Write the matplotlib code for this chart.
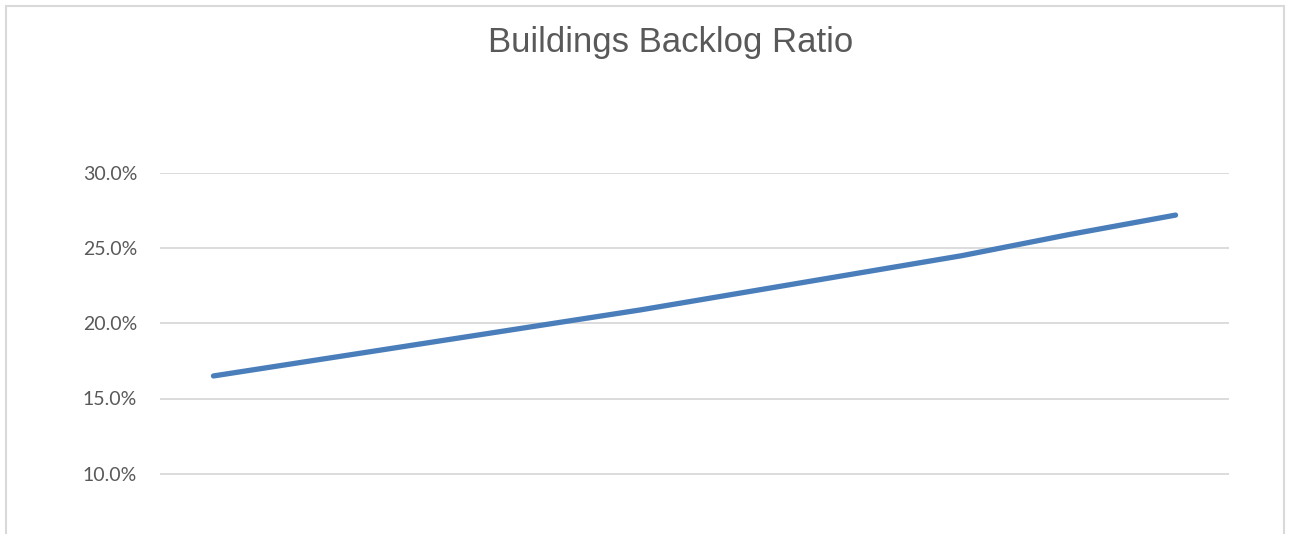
import matplotlib
matplotlib.use("Agg")
import matplotlib.pyplot as plt
from matplotlib.patches import Rectangle
from matplotlib.ticker import PercentFormatter, FixedLocator

# Data (10 evenly spaced periods, x labels cropped out)
periods = list(range(1, 11))
backlog_ratio = [0.165, 0.176, 0.187, 0.198, 0.209, 0.221, 0.233, 0.245, 0.259, 0.272]
y_ticks = [0.10, 0.15, 0.20, 0.25, 0.30]

W, H = 1289, 534
fig = plt.figure(figsize=(W / 100, H / 100), dpi=100, facecolor="white")

# plot area: top gridline (30%) at y=173px, axis floor (0%) falls below the crop
left, right = 160 / W, 1229 / W
top_px, bottom_px = 173, 624
ax = fig.add_axes([left, 1 - bottom_px / H, right - left, (bottom_px - top_px) / H])

ax.plot(range(len(periods)), backlog_ratio, color="#4A7EBB", linewidth=3.8,
        solid_capstyle="round", solid_joinstyle="round", zorder=3)

ax.set_xlim(-0.5, len(periods) - 0.5)
ax.set_ylim(0, 0.30)
ax.yaxis.set_major_locator(FixedLocator(y_ticks))
ax.yaxis.set_major_formatter(PercentFormatter(1.0, decimals=1))
ax.set_xticks([])
ax.grid(axis="y", color="#D9D9D9", linewidth=1.3, zorder=0)
for s in ax.spines.values():
    s.set_visible(False)
ax.tick_params(axis="y", length=0, pad=16.5, labelsize=14, labelcolor="#595959")
for lbl in ax.get_yticklabels():
    lbl.set_fontfamily("Lato")

# chart frame
fig.patches.append(Rectangle((6 / W, -0.1), (1284 - 6) / W, 1 - 6 / H + 0.1,
                             transform=fig.transFigure, fill=False,
                             edgecolor="#D9D9D9", linewidth=1.5))

fig.text(671 / W, 1 - 52 / H, "Buildings Backlog Ratio", ha="center", va="baseline",
         fontsize=25, color="#595959", family="Liberation Sans")

fig.savefig("out.png", dpi=100, facecolor="white")
